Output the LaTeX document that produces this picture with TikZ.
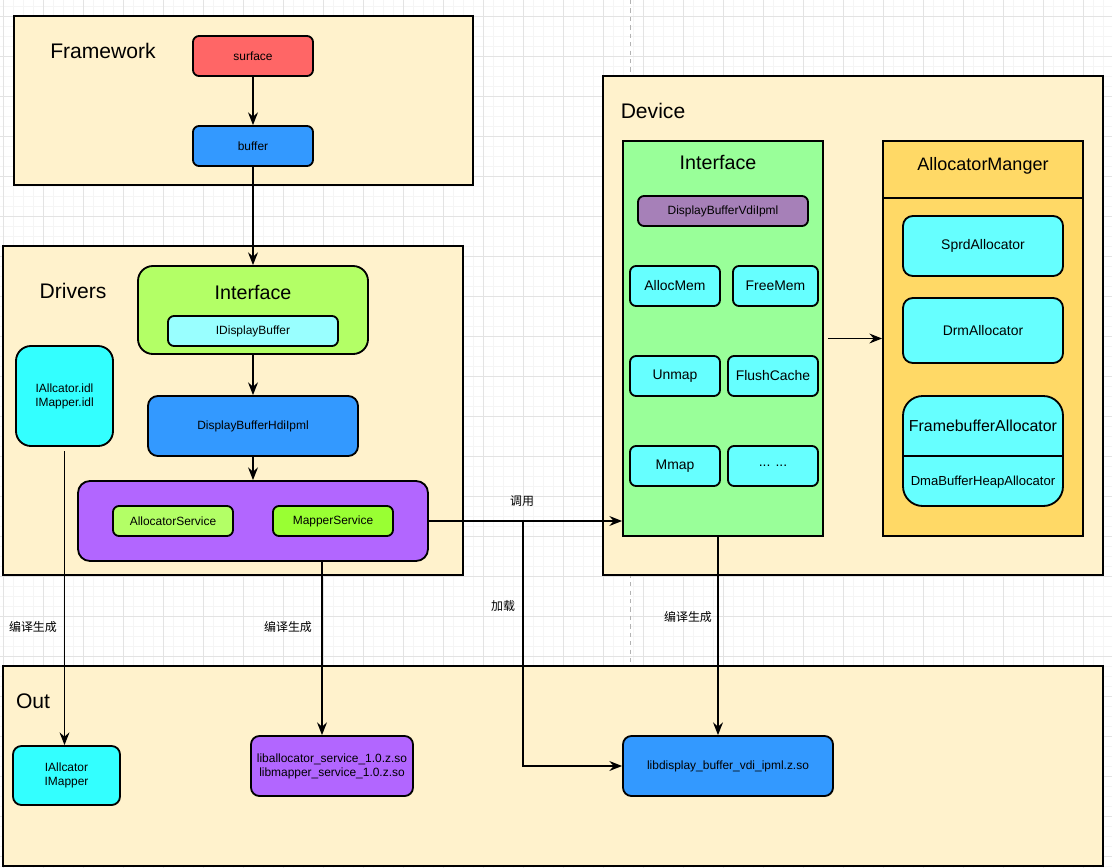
\documentclass[tikz,border=0pt]{standalone}
\usepackage{fontspec}
\setmainfont{Liberation Sans}
\newfontfamily\cjk{Noto Sans CJK SC}
\usetikzlibrary{arrows.meta}
\definecolor{secbg}{HTML}{FFF2CC}
\definecolor{surfred}{HTML}{FF6666}
\definecolor{bufblue}{HTML}{3399FF}
\definecolor{limegreen}{HTML}{B3FF66}
\definecolor{palecyan}{HTML}{99FFFF}
\definecolor{svcpurple}{HTML}{B266FF}
\definecolor{mapgreen}{HTML}{99FF33}
\definecolor{idlcyan}{HTML}{33FFFF}
\definecolor{ifgreen}{HTML}{99FF99}
\definecolor{vdipurple}{HTML}{A680B8}
\definecolor{funccyan}{HTML}{66FFFF}
\definecolor{mgryellow}{HTML}{FFD966}
\newcommand\ftA{\fontsize{8.5}{10}\selectfont}
\newcommand\ftB{\fontsize{9.9}{11.5}\selectfont}
\newcommand\ftC{\fontsize{11.3}{13}\selectfont}
\newcommand\ftD{\fontsize{12.8}{15}\selectfont}
\newcommand\ftI{\fontsize{14}{16}\selectfont}
\newcommand\ftT{\fontsize{15}{18}\selectfont}
\begin{document}
\begin{tikzpicture}[x=0.025cm,y=-0.025cm,
    sec/.style={draw,line width=1.3pt,fill=secbg},
    blk/.style={draw,line width=1.3pt,rounded corners=4.3pt,inner sep=0pt,align=center,font=\ftA},
    wh/.style 2 args={minimum width=#1*0.025cm,minimum height=#2*0.025cm},
    arr/.style={line width=1.3pt,-{Stealth[length=9pt,width=7pt,inset=3pt]}},
    ttl/.style={font=\ftT},
    lbl/.style={font=\cjk\ftA}]
  \useasboundingbox (0,0) rectangle (1112,868);
  \fill[white] (0,0) rectangle (1112,868);
  \foreach \gx in {3,13,...,1112} \draw[black!4,line width=0.5pt] (\gx,0) -- (\gx,868);
  \foreach \gy in {6,16,...,868} \draw[black!4,line width=0.5pt] (0,\gy) -- (1112,\gy);
  \foreach \gx in {3,43,...,1112} \draw[black!11,line width=0.7pt] (\gx,0) -- (\gx,868);
  \foreach \gy in {16,56,...,868} \draw[black!11,line width=0.7pt] (0,\gy) -- (1112,\gy);
  \draw[black!30,dashed,line width=0.5pt] (630,0) -- (630,868);

  % sections
  \draw[sec] (14,16) rectangle (473,185);
  \draw[sec] (3,246) rectangle (463,575);
  \draw[sec] (603,76) rectangle (1103,575);
  \draw[sec] (3,666) rectangle (1103,866);
  \node[ttl] (fwttl) at (103,51) {Framework};
  \node[ttl] (drvttl) at (73,291) {Drivers};
  \node[ttl] (devttl) at (653,111) {Device};
  \node[ttl] (outttl) at (33,701) {Out};

  % framework
  \node[blk,wh={120}{40},fill=surfred] (surface) at (253,56) {surface};
  \node[blk,wh={120}{40},fill=bufblue] (buffer) at (253,146) {buffer};

  % drivers
  \node[blk,wh={230}{88},fill=limegreen,rounded corners=10.6pt] (drvif) at (253,310) {};
  \node[font=\ftI] (drvifttl) at (253,292) {Interface};
  \node[blk,wh={170}{30},fill=palecyan] (idisp) at (253,331) {IDisplayBuffer};
  \node[blk,wh={210}{60},fill=bufblue,rounded corners=7pt] (hdi) at (253,426) {DisplayBufferHdiIpml};
  \node[blk,wh={350}{80},fill=svcpurple,rounded corners=8.5pt] (svc) at (253,521) {};
  \node[blk,wh={120}{30},fill=limegreen] (allocsvc) at (173,521) {AllocatorService};
  \node[blk,wh={120}{30},fill=mapgreen] (mapsvc) at (333,521) {MapperService};
  \node[blk,wh={97}{100},fill=idlcyan,rounded corners=10.6pt] (idl) at (64.5,396) {IAllcator.idl\\IMapper.idl};

  % device
  \node[draw,line width=1.3pt,fill=ifgreen,wh={200}{395}] (devif) at (723,338.5) {};
  \node[font=\ftI] (devifttl) at (718,162) {Interface};
  \node[blk,wh={170}{30},fill=vdipurple] (vdi) at (723,211) {DisplayBufferVdiIpml};
  \node[blk,wh={90}{40},fill=funccyan,font=\ftB] (allocmem) at (675,286) {AllocMem};
  \node[blk,wh={85}{40},fill=funccyan,font=\ftB] (freemem) at (775.5,286) {FreeMem};
  \node[blk,wh={90}{40},fill=funccyan,font=\ftB] (unmap) at (675,376) {Unmap};
  \node[blk,wh={90}{40},fill=funccyan,font=\ftB] (flush) at (773,376) {FlushCache};
  \node[blk,wh={90}{40},fill=funccyan,font=\ftB] (mmap) at (675,466) {Mmap};
  \node[blk,wh={90}{40},fill=funccyan,font=\ftB] (more) at (773,466) {... ...};
  \node[draw,line width=1.3pt,fill=mgryellow,wh={200}{395}] (mgr) at (983,338.5) {};
  \draw[line width=1.3pt] (883,198) -- (1083,198);
  \node[font=\ftD] (mgrttl) at (983,166) {AllocatorManger};
  \node[blk,wh={160}{60},fill=funccyan,font=\ftB,rounded corners=7pt] (sprd) at (983,246) {SprdAllocator};
  \node[blk,wh={160}{65},fill=funccyan,font=\ftB,rounded corners=7pt] (drm) at (983,330.5) {DrmAllocator};
  \node[blk,wh={160}{110},fill=funccyan,rounded corners=14pt] (fba) at (983,451) {};
  \draw[line width=1.3pt] (903,456) -- (1063,456);
  \node[font=\ftC] (fbattl) at (983,426) {FramebufferAllocator};
  \node[font=\fontsize{9.3}{11}\selectfont] (dmaheap) at (983,482) {DmaBufferHeapAllocator};

  % out
  \node[blk,wh={107}{59},fill=idlcyan,rounded corners=6pt] (ialloc) at (66.5,775.5) {IAllcator\\IMapper};
  \node[blk,wh={162}{60},fill=svcpurple,rounded corners=6pt] (libsvc) at (332,766) {liballocator\_service\_1.0.z.so\\libmapper\_service\_1.0.z.so};
  \node[blk,wh={210}{60},fill=bufblue,rounded corners=6pt] (libdisp) at (728,766) {libdisplay\_buffer\_vdi\_ipml.z.so};

  % connectors
  \draw[arr] (surface) -- (buffer);
  \draw[arr] (buffer) -- (drvif);
  \draw[arr] (drvif) -- (hdi);
  \draw[arr] (hdi) -- (svc);
  \draw[arr,shorten <=3pt] (devif.east) -- (mgr.west);
  \draw[arr] (svc.east) -- (svc.east -| devif.west);
  \coordinate (split) at (523,521);
  \draw[arr] (split) |- (libdisp.west);
  \path (devif.south) ++(-5,0) coordinate (devout);
  \draw[arr] (devout) -- (devout |- libdisp.north);
  \path (svc.south) ++(69,0) coordinate (svcout);
  \draw[arr] (svcout) -- (svcout |- libsvc.north);
  \draw[arr,shorten <=3pt] (idl.south) -- (idl.south |- ialloc.north);
  \node[lbl] (call) at (522,501) {调用};
  \node[lbl] (load) at (503,606) {加载};
  \node[lbl] (gen1) at (33,627) {编译生成};
  \node[lbl] (gen2) at (288,627) {编译生成};
  \node[lbl] (gen3) at (688,617) {编译生成};
\end{tikzpicture}
\end{document}
